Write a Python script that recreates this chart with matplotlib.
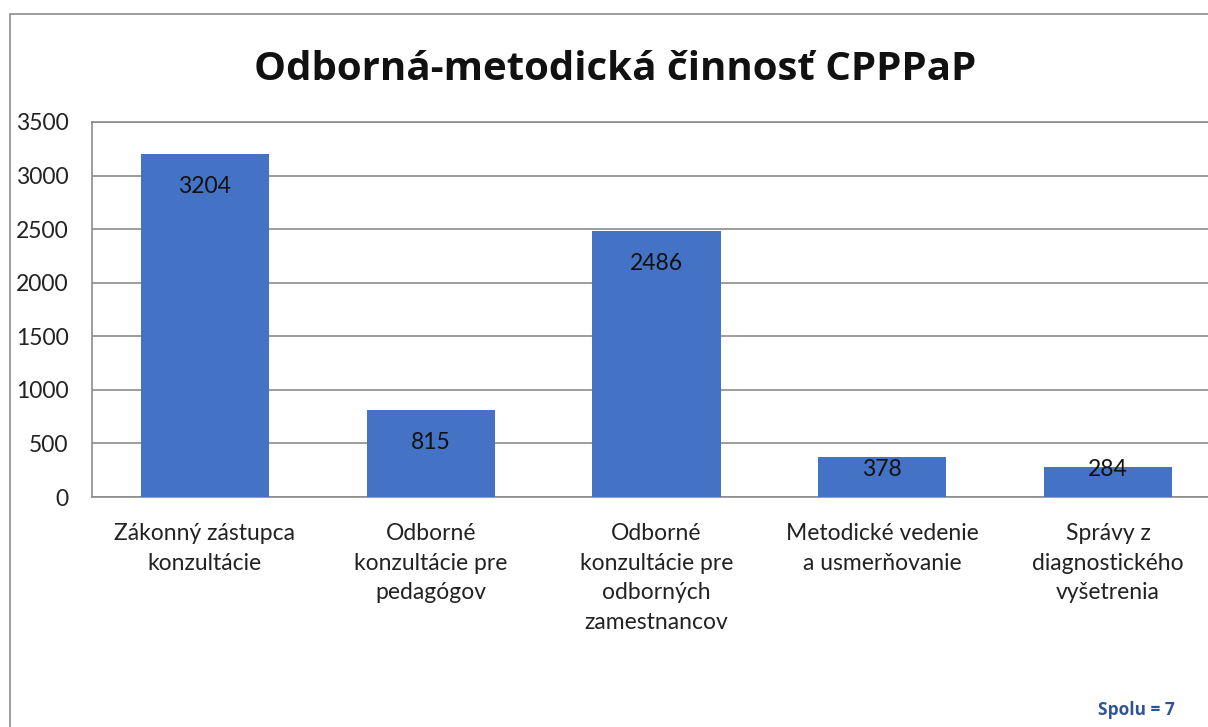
import matplotlib
matplotlib.use("Agg")
import matplotlib.pyplot as plt
from matplotlib.patches import Rectangle

categories = [
    "Zákonný zástupca\nkonzultácie",
    "Odborné\nkonzultácie pre\npedagógov",
    "Odborné\nkonzultácie pre\nodborných\nzamestnancov",
    "Metodické vedenie\na usmerňovanie",
    "Správy z\ndiagnostického\nvyšetrenia",
]
values = [3204, 815, 2486, 378, 284]
yticks = [0, 500, 1000, 1500, 2000, 2500, 3000, 3500]
title = "Odborná-metodická činnosť CPPPaP"
note = "Spolu = 7"

plt.rcParams['font.family'] = ['Lato', 'DejaVu Sans']

W, H = 1208, 727
fig = plt.figure(figsize=(W / 100, H / 100), dpi=100)

# outer chart border (cropped at right and bottom)
fig.patches.append(Rectangle((10 / W, -1.0), 2.0, 2.0 - 14 / H, transform=fig.transFigure,
                             fill=False, edgecolor="#8c8c8c", linewidth=1.2))

left, right = 92, 1221
top, bottom = 122, 497
ax = fig.add_axes([left / W, 1 - bottom / H, (right - left) / W, (bottom - top) / H])

FS = 16.5
x = list(range(len(categories)))
ax.bar(x, values, width=0.567, color="#4472C4", zorder=3)
ax.set_xlim(-0.5, len(categories) - 0.5)
ax.set_ylim(0, 3500)
ax.set_yticks(yticks)
ax.set_yticklabels([str(v) for v in yticks], fontsize=FS, color="#222222")
ax.set_xticks(x)
ax.set_xticklabels(categories, fontsize=FS, color="#222222", linespacing=1.5)
ax.tick_params(axis="both", length=0)
ax.tick_params(axis="y", pad=17)
ax.tick_params(axis="x", pad=19)
ax.yaxis.grid(True, color="#8c8c8c", linewidth=1.2, zorder=0)
ax.spines["right"].set_visible(False)
for s in ["left", "top", "bottom"]:
    ax.spines[s].set_color("#8c8c8c")
    ax.spines[s].set_linewidth(1.2)

# data labels: inside end, pushed up from base when bar is short
px_per_unit = (bottom - top) / 3500.0
for xi, v in zip(x, values):
    if v * px_per_unit > 57:
        ax.annotate(str(v), (xi, v), xytext=(0, -33 * 0.72), textcoords="offset points",
                    ha="center", va="center", fontsize=FS, color="#111111", zorder=4)
    else:
        ax.annotate(str(v), (xi, 0), xytext=(0, 27 * 0.72), textcoords="offset points",
                    ha="center", va="center", fontsize=FS, color="#111111", zorder=4)

fig.text(615 / W, 1 - 70 / H, title, ha="center", va="center",
         fontsize=29, fontweight="bold", color="#111111", family="Open Sans")
fig.text(1175 / W, 1 - 710 / H, note, ha="right", va="center",
         fontsize=12.5, fontweight="bold", color="#2F5597", family="Open Sans")

fig.savefig("out.png", dpi=100)
